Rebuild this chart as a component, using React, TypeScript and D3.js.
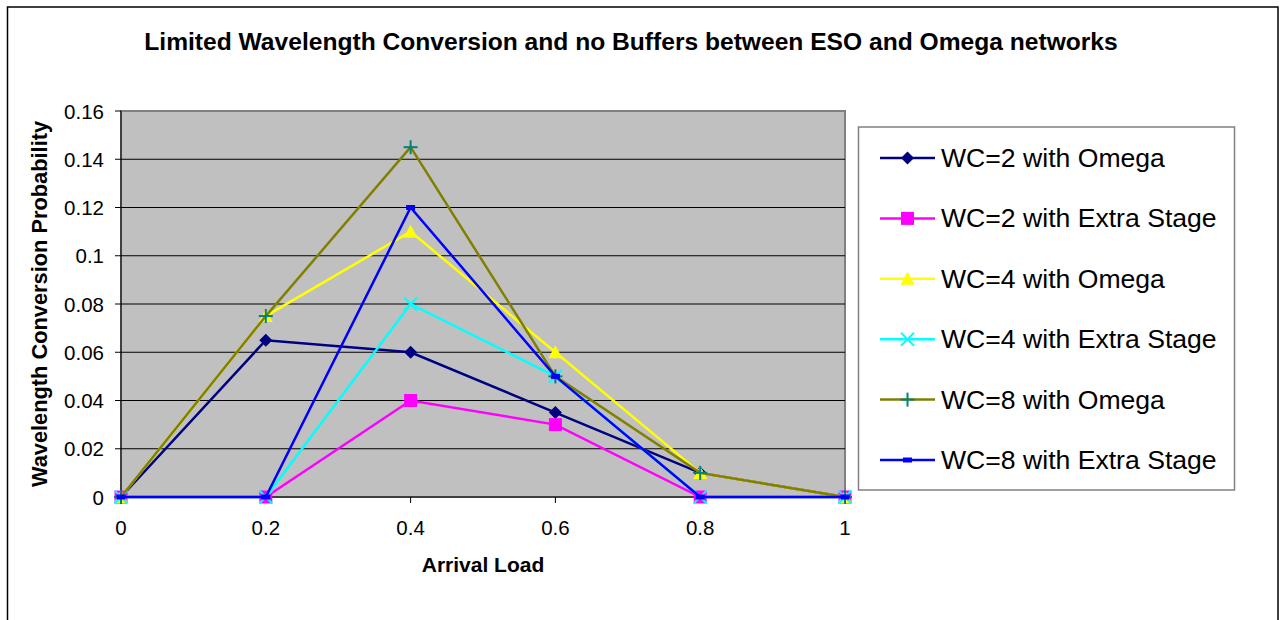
import React from "react";
import * as d3 from "d3";

const loads = [0, 0.2, 0.4, 0.6, 0.8, 1];
const wc2Omega = [0, 0.065, 0.06, 0.035, 0.01, 0];
const wc2Extra = [0, 0, 0.04, 0.03, 0, 0];
const wc4Omega = [0, 0.075, 0.11, 0.06, 0.01, 0];
const wc4Extra = [0, 0, 0.08, 0.05, 0, 0];
const wc8Omega = [0, 0.075, 0.145, 0.05, 0.01, 0];
const wc8Extra = [0, 0, 0.12, 0.05, 0, 0];
const seriesNames = [
  "WC=2 with Omega",
  "WC=2 with Extra Stage",
  "WC=4 with Omega",
  "WC=4 with Extra Stage",
  "WC=8 with Omega",
  "WC=8 with Extra Stage",
];
const yTicks = [0, 0.02, 0.04, 0.06, 0.08, 0.1, 0.12, 0.14, 0.16];
const xTicks = [0, 0.2, 0.4, 0.6, 0.8, 1];
const title = "Limited Wavelength Conversion and no Buffers between ESO and Omega networks";
const xTitle = "Arrival Load";
const yTitle = "Wavelength Conversion Probability";

type MarkerKind = "diamond" | "square" | "triangle" | "x" | "plus" | "dash";
const seriesStyle: { line: string; marker: string; kind: MarkerKind }[] = [
  { line: "#000080", marker: "#000080", kind: "diamond" },
  { line: "#FF00FF", marker: "#FF00FF", kind: "square" },
  { line: "#FFFF00", marker: "#FFFF00", kind: "triangle" },
  { line: "#00FFFF", marker: "#00FFFF", kind: "x" },
  { line: "#808000", marker: "#008080", kind: "plus" },
  { line: "#0000FF", marker: "#0000FF", kind: "dash" },
];
const seriesValues = [wc2Omega, wc2Extra, wc4Omega, wc4Extra, wc8Omega, wc8Extra];

const FONT = "'Liberation Sans', Arial, sans-serif";

function Marker({ kind, color, x, y }: { kind: MarkerKind; color: string; x: number; y: number }) {
  switch (kind) {
    case "diamond":
      return <path d={`M${x},${y - 6.5}L${x + 6.5},${y}L${x},${y + 6.5}L${x - 6.5},${y}Z`} fill={color} />;
    case "square":
      return <rect x={x - 6.5} y={y - 6.5} width={13} height={13} fill={color} />;
    case "triangle":
      return <path d={`M${x},${y - 7}L${x + 7},${y + 6}L${x - 7},${y + 6}Z`} fill={color} />;
    case "x":
      return (
        <g stroke={color} strokeWidth={2}>
          <line x1={x - 6.5} y1={y - 6.5} x2={x + 6.5} y2={y + 6.5} />
          <line x1={x - 6.5} y1={y + 6.5} x2={x + 6.5} y2={y - 6.5} />
        </g>
      );
    case "plus":
      return (
        <g stroke={color} strokeWidth={2}>
          <line x1={x - 7} y1={y} x2={x + 7} y2={y} />
          <line x1={x} y1={y - 7} x2={x} y2={y + 7} />
        </g>
      );
    case "dash":
      return <rect x={x - 4.5} y={y - 2.5} width={9} height={5} fill={color} />;
  }
}

export default function App() {
  const x = d3.scaleLinear().domain([0, 1]).range([121, 845]);
  const y = d3.scaleLinear().domain([0, 0.16]).range([497, 111]);
  const line = d3
    .line<number>()
    .x((_, i) => x(loads[i]))
    .y((d) => y(d));

  const legendX = 858.5;
  const legendY = 127;
  const legendW = 376;
  const legendH = 363;
  const legendStep = 60.4;

  return (
    <div style={{ position: "absolute", left: 0, top: 0 }}>
      <svg width={1284} height={620} style={{ display: "block", background: "#fff" }} fontFamily={FONT}>
        <rect x={7.5} y={7} width={1270.5} height={640} fill="#fff" stroke="#000" strokeWidth={1.5} />
        <text x={631} y={50} textAnchor="middle" fontWeight="bold" fontSize={24.6} fill="#000">
          {title}
        </text>

        {/* plot area */}
        <rect
          x={x(0)}
          y={y(0.16)}
          width={x(1) - x(0)}
          height={y(0) - y(0.16)}
          fill="#C0C0C0"
          stroke="#808080"
          strokeWidth={2}
        />
        {yTicks.slice(1, -1).map((t) => (
          <line key={t} x1={x(0)} x2={x(1)} y1={y(t)} y2={y(t)} stroke="#000" strokeWidth={1} />
        ))}
        <line x1={x(0)} x2={x(0)} y1={y(0.16)} y2={y(0)} stroke="#000" strokeWidth={1} />
        <line x1={x(0)} x2={x(1)} y1={y(0)} y2={y(0)} stroke="#000" strokeWidth={1} />
        {yTicks.map((t) => (
          <g key={t}>
            <line x1={x(0) - 6} x2={x(0)} y1={y(t)} y2={y(t)} stroke="#000" strokeWidth={1} />
            <text x={104} y={y(t) + 7.5} textAnchor="end" fontSize={20.5} fill="#000">
              {d3.format("")(t)}
            </text>
          </g>
        ))}
        {xTicks.map((t) => (
          <g key={t}>
            <line x1={x(t)} x2={x(t)} y1={y(0)} y2={y(0) + 6} stroke="#000" strokeWidth={1} />
            <text x={x(t)} y={535} textAnchor="middle" fontSize={20.5} fill="#000">
              {d3.format("")(t)}
            </text>
          </g>
        ))}
        <text x={(x(0) + x(1)) / 2} y={572} textAnchor="middle" fontWeight="bold" fontSize={21} fill="#000">
          {xTitle}
        </text>
        <text
          transform={`translate(47, ${(y(0) + y(0.16)) / 2}) rotate(-90)`}
          textAnchor="middle"
          fontWeight="bold"
          fontSize={21.8}
          fill="#000"
        >
          {yTitle}
        </text>

        {/* series */}
        {seriesValues.map((vals, si) => (
          <g key={si}>
            <path d={line(vals) || ""} fill="none" stroke={seriesStyle[si].line} strokeWidth={2.5} />
            {vals.map((v, i) => (
              <Marker key={i} kind={seriesStyle[si].kind} color={seriesStyle[si].marker} x={x(loads[i])} y={y(v)} />
            ))}
          </g>
        ))}

        {/* legend */}
        <rect x={legendX} y={legendY} width={legendW} height={legendH} fill="#fff" stroke="#808080" strokeWidth={1.5} />
        {seriesNames.map((name, i) => {
          const cy = legendY + 31 + i * legendStep;
          return (
            <g key={name}>
              <line x1={880} x2={935} y1={cy} y2={cy} stroke={seriesStyle[i].line} strokeWidth={2.5} />
              <Marker kind={seriesStyle[i].kind} color={seriesStyle[i].marker} x={907.5} y={cy} />
              <text x={941} y={cy + 9} fontSize={26.6} fill="#000">
                {name}
              </text>
            </g>
          );
        })}
      </svg>
    </div>
  );
}
